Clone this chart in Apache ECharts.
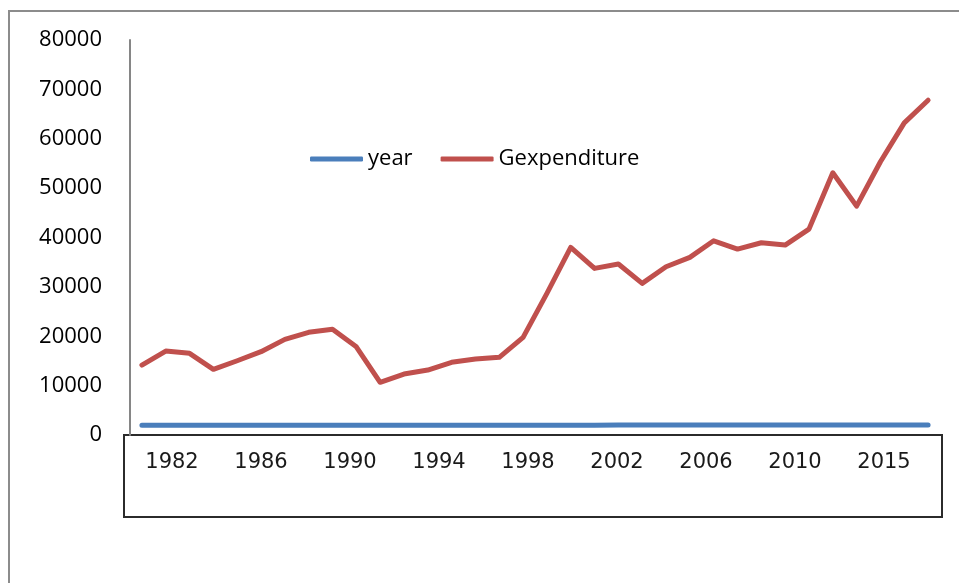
<!DOCTYPE html>
<html>
<head>
<meta charset="utf-8">
<script src="https://cdn.jsdelivr.net/npm/echarts@6/dist/echarts.min.js"></script>
<style>
  html, body { margin: 0; padding: 0; background: #fff; }
  #chart { width: 959px; height: 583px; }
</style>
</head>
<body>
<div id="chart"></div>
<script>
// x categories (one per point)
var years = [1981, 1982, 1983, 1984, 1985, 1986, 1987, 1988, 1989, 1990,
             1991, 1992, 1993, 1994, 1995, 1996, 1997, 1998, 1999, 2000,
             2001, 2002, 2003, 2004, 2005, 2006, 2007, 2008, 2009, 2010,
             2011, 2012, 2013, 2014];
// Gexpenditure values
var gexpenditure = [14170, 17000, 16540, 13300, 15040, 16870, 19370, 20790, 21400, 17870,
                    10670, 12350, 13160, 14720, 15380, 15730, 19780, 28680, 37990, 33740,
                    34620, 30710, 34070, 35970, 39330, 37650, 38930, 38460, 41700, 53100,
                    46360, 55330, 63220, 67800];
// labels shown in the box under the plot
var xLabels = ['1982', '1986', '1990', '1994', '1998', '2002', '2006', '2010', '2015'];
var yTicks = [0, 10000, 20000, 30000, 40000, 50000, 60000, 70000, 80000];

var chart = echarts.init(document.getElementById('chart'));

var option = {
  animation: false,
  backgroundColor: '#fff',
  legend: {
    left: 305,
    top: 143,
    itemWidth: 53,
    itemHeight: 5,
    itemGap: 28,
    icon: 'roundRect',
    textStyle: { fontFamily: 'Open Sans', fontSize: 22, color: '#000' },
    data: ['year', 'Gexpenditure']
  },
  grid: [
    { left: 130, right: 19, top: 40, bottom: 148 },
    { left: 127.5, right: 30.5, top: 435, height: 1 }
  ],
  xAxis: [
    {
      type: 'category',
      gridIndex: 0,
      data: years,
      boundaryGap: true,
      axisLine: { show: false },
      axisTick: { show: false },
      axisLabel: { show: false }
    },
    {
      type: 'category',
      gridIndex: 1,
      data: xLabels,
      boundaryGap: true,
      axisLine: { show: false },
      axisTick: { show: false },
      axisLabel: {
        margin: 16,
        fontFamily: 'DejaVu Sans',
        fontSize: 21,
        color: '#1a1a1a'
      }
    }
  ],
  yAxis: [
    {
      type: 'value',
      gridIndex: 0,
      min: yTicks[0],
      max: yTicks[yTicks.length - 1],
      interval: 10000,
      axisLine: { show: true, lineStyle: { color: '#868686', width: 2 } },
      axisTick: { show: false },
      splitLine: { show: false },
      axisLabel: {
        margin: 28,
        fontFamily: 'Open Sans',
        fontSize: 22,
        color: '#000',
        formatter: function (v) { return String(v); }
      }
    },
    {
      type: 'value',
      gridIndex: 1,
      show: false
    }
  ],
  series: [
    {
      name: 'year',
      type: 'line',
      xAxisIndex: 0,
      yAxisIndex: 0,
      data: years,
      symbol: 'none',
      itemStyle: { color: '#4a7ebb' },
      lineStyle: { color: '#4a7ebb', width: 5, cap: 'round', join: 'round' }
    },
    {
      name: 'Gexpenditure',
      type: 'line',
      xAxisIndex: 0,
      yAxisIndex: 0,
      data: gexpenditure,
      symbol: 'none',
      itemStyle: { color: '#c0504d' },
      lineStyle: { color: '#c0504d', width: 5, cap: 'round', join: 'round' }
    }
  ],
  graphic: [
    // outer chart frame (cut off at right and bottom)
    {
      type: 'rect',
      shape: { x: 9, y: 11, width: 1000, height: 700 },
      style: { fill: 'none', stroke: '#8c8c8c', lineWidth: 2 },
      silent: true
    },
    // box round the category labels
    {
      type: 'rect',
      shape: { x: 124, y: 435, width: 818, height: 82 },
      style: { fill: 'none', stroke: '#2b2b2b', lineWidth: 2 },
      silent: true
    }
  ]
};

chart.setOption(option);
</script>
</body>
</html>
